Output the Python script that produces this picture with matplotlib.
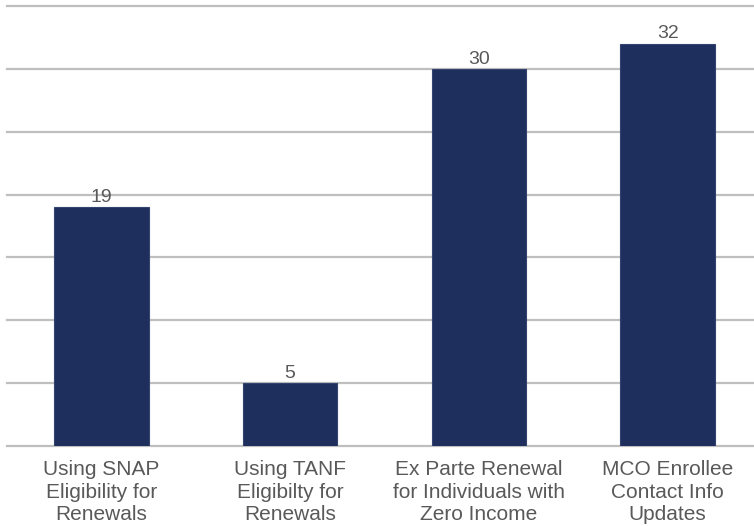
import matplotlib
matplotlib.use('Agg')
import matplotlib.pyplot as plt

# Renewal strategy counts
categories = [
    'Using SNAP\nEligibility for\nRenewals',
    'Using TANF\nEligibilty for\nRenewals',
    'Ex Parte Renewal\nfor Individuals with\nZero Income',
    'MCO Enrollee\nContact Info\nUpdates',
]
counts = [19, 5, 30, 32]

plt.rcParams['font.family'] = ['Liberation Sans', 'DejaVu Sans']

fig = plt.figure(figsize=(7.54, 5.26), dpi=100)
ax = fig.add_axes([7 / 754, 1 - 446 / 526, 755 / 754, 440 / 526])

x = list(range(len(categories)))
bars = ax.bar(x, counts, width=0.5, color='#1e2f5e', edgecolor='#34446f',
              linewidth=0.8, zorder=3)

for rect, val in zip(bars, counts):
    ax.text(rect.get_x() + rect.get_width() / 2, val + 0.1, str(val),
            ha='center', va='bottom', fontsize=14, color='#595959')

ax.set_xlim(-0.5, 3.5)
ax.set_ylim(0, 35)
ax.set_yticks(range(0, 36, 5))
ax.yaxis.grid(True, color='#bfbfbf', linewidth=1.6, zorder=0)
for gl in ax.get_ygridlines():
    gl.set_clip_on(False)
ax.tick_params(axis='y', left=False, labelleft=False)
ax.set_xticks(x)
ax.set_xticklabels(categories, fontsize=15, color='#595959', linespacing=1.25)
ax.tick_params(axis='x', length=0, pad=10)

for side in ['top', 'right', 'left', 'bottom']:
    ax.spines[side].set_visible(False)

fig.savefig('out.png', dpi=100)
